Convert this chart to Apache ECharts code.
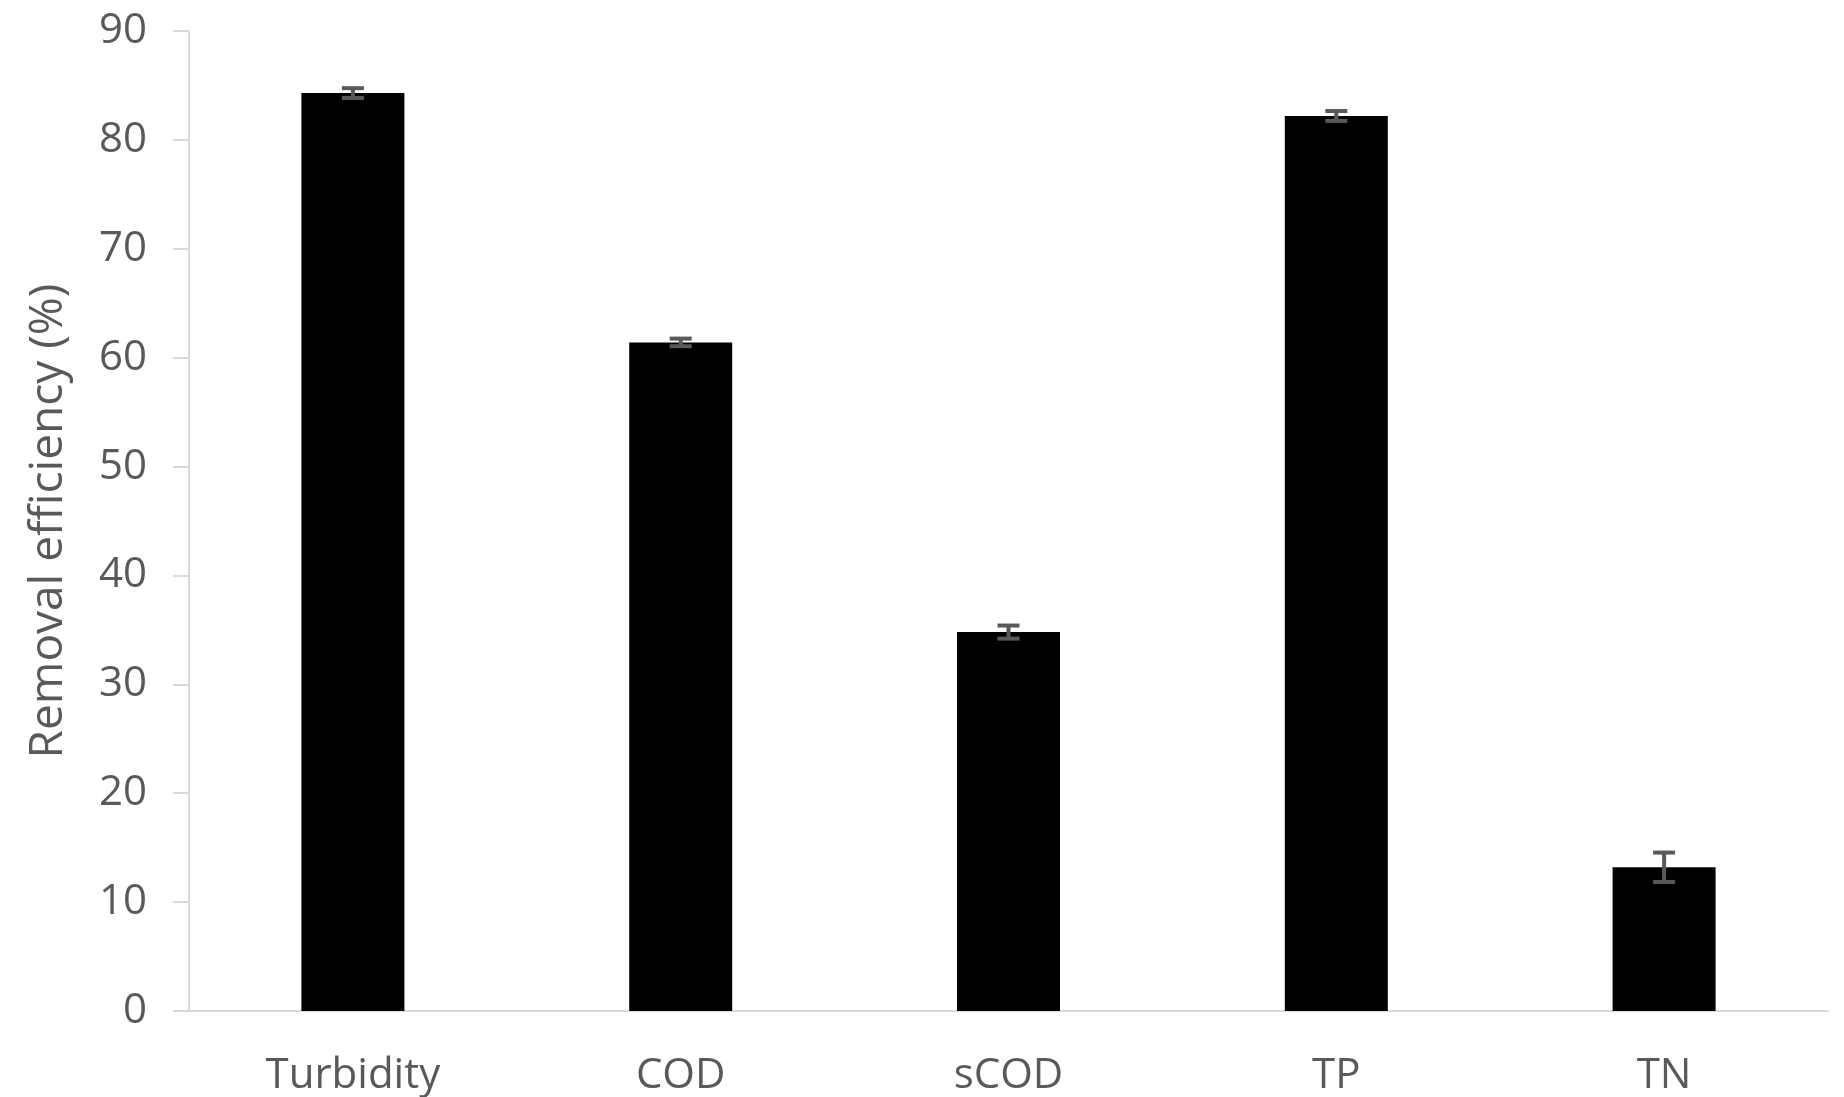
<!DOCTYPE html>
<html>
<head>
<meta charset="utf-8">
<script src="https://cdn.jsdelivr.net/npm/echarts@6/dist/echarts.min.js"></script>
<style>html,body{margin:0;padding:0;background:#fff;}#main{width:1844px;height:1097px;}</style>
</head>
<body>
<div id="main"></div>
<script>
var categories = ['Turbidity', 'COD', 'sCOD', 'TP', 'TN'];
var values = [84.3, 61.4, 34.8, 82.2, 13.2];
var errors = [0.45, 0.35, 0.6, 0.45, 1.35];
var yTicks = [0, 10, 20, 30, 40, 50, 60, 70, 80, 90];

var FONT = 'Open Sans';
var TEXT = '#595959';
var AXIS = '#d9d9d9';

var errData = categories.map(function (c, i) { return [i, values[i] - errors[i], values[i] + errors[i]]; });

var chart = echarts.init(document.getElementById('main'));
chart.setOption({
  animation: false,
  backgroundColor: '#fff',
  grid: { left: 189, right: 16, top: 31, bottom: 86 },
  xAxis: {
    type: 'category',
    data: categories,
    axisLine: { lineStyle: { color: AXIS, width: 2 } },
    axisTick: { show: false },
    axisLabel: { color: TEXT, fontFamily: FONT, fontSize: 42, margin: 44 }
  },
  yAxis: {
    type: 'value',
    min: yTicks[0],
    max: yTicks[yTicks.length - 1],
    interval: 10,
    name: 'Removal efficiency (%)',
    nameLocation: 'middle',
    nameGap: 117,
    nameTextStyle: { color: TEXT, fontFamily: FONT, fontSize: 46 },
    axisLine: { show: true, lineStyle: { color: AXIS, width: 2 } },
    axisTick: { show: true, length: 16, lineStyle: { color: AXIS, width: 2 } },
    splitLine: { show: false },
    axisLabel: { color: TEXT, fontFamily: FONT, fontSize: 42, margin: 42 }
  },
  series: [
    {
      type: 'bar',
      data: values,
      barWidth: 103,
      itemStyle: { color: '#000' }
    },
    {
      type: 'custom',
      data: errData,
      z: 10,
      renderItem: function (params, api) {
        var i = api.value(0);
        var lo = api.coord([i, api.value(1)]);
        var hi = api.coord([i, api.value(2)]);
        var hw = 11;
        var style = { stroke: '#595959', lineWidth: 4 };
        return {
          type: 'group',
          children: [
            { type: 'line', shape: { x1: lo[0], y1: lo[1], x2: hi[0], y2: hi[1] }, style: style },
            { type: 'line', shape: { x1: lo[0] - hw, y1: lo[1], x2: lo[0] + hw, y2: lo[1] }, style: style },
            { type: 'line', shape: { x1: hi[0] - hw, y1: hi[1], x2: hi[0] + hw, y2: hi[1] }, style: style }
          ]
        };
      }
    }
  ]
});
</script>
</body>
</html>
